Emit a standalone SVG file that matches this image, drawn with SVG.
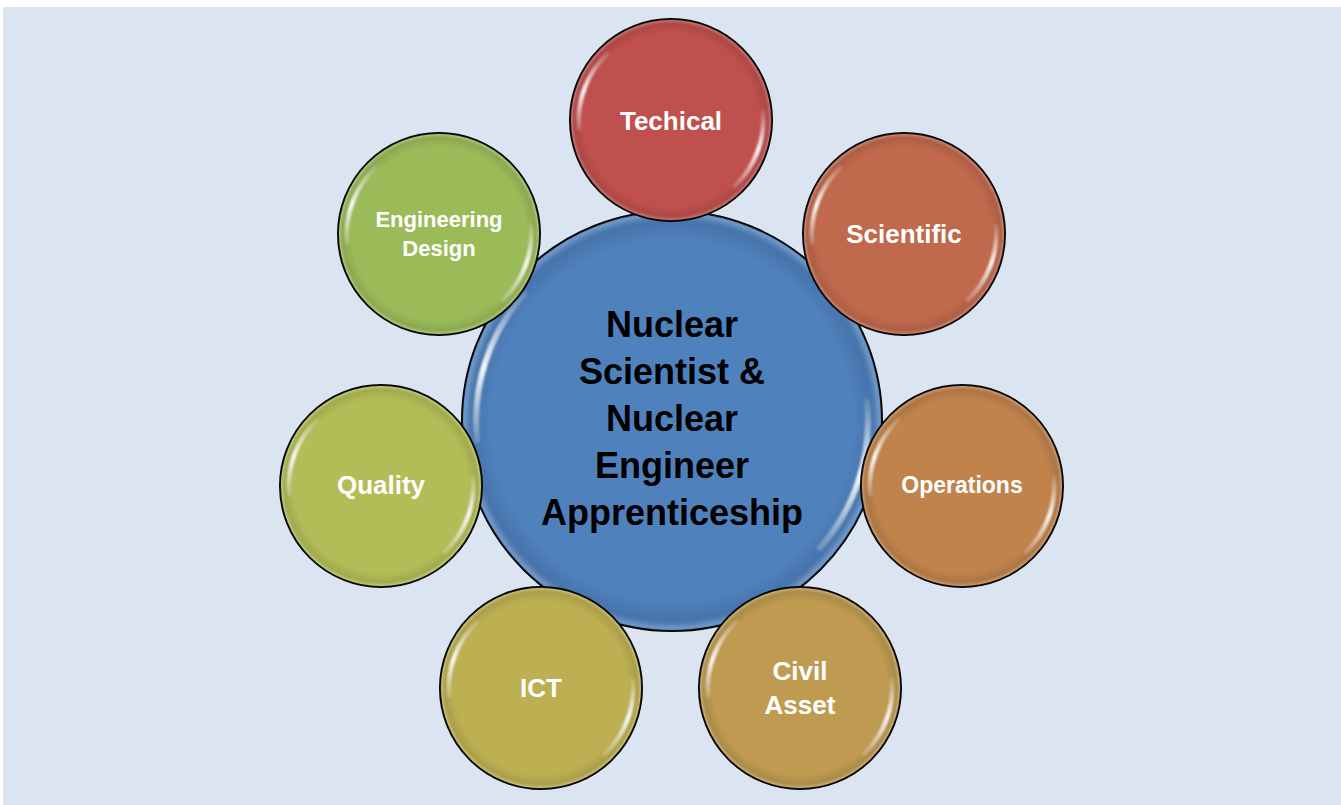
<svg xmlns="http://www.w3.org/2000/svg" width="1341" height="805" viewBox="0 0 1341 805">
<style>
.ring{stroke:#000;stroke-width:2}
.lbl{font-family:"Liberation Sans",Arial,sans-serif;font-weight:bold;fill:#fff;text-anchor:middle}
.ctr{font-family:"Liberation Sans",Arial,sans-serif;font-weight:bold;font-size:36px;fill:#000;text-anchor:middle}
.hl{fill:none;stroke:url(#hlgrad);stroke-linecap:round;filter:url(#soft)}
</style>
<defs>
<radialGradient id="shade" cx="0.5" cy="0.5" r="0.5">
<stop offset="0" stop-color="#000" stop-opacity="0"/>
<stop offset="0.86" stop-color="#000" stop-opacity="0"/>
<stop offset="0.95" stop-color="#000" stop-opacity="0.10"/>
<stop offset="0.985" stop-color="#fff" stop-opacity="0.18"/>
<stop offset="1" stop-color="#fff" stop-opacity="0.05"/>
</radialGradient>
<linearGradient id="hlgrad" x1="0" y1="1" x2="0" y2="0">
<stop offset="0" stop-color="#fff" stop-opacity="0.2"/>
<stop offset="0.5" stop-color="#fff" stop-opacity="0.95"/>
<stop offset="1" stop-color="#fff" stop-opacity="0.15"/>
</linearGradient>
<filter id="soft" x="-50%" y="-50%" width="200%" height="200%"><feGaussianBlur stdDeviation="1.1"/></filter>
<g id="gloss">
<circle r="101" fill="url(#shade)"/>
<path class="hl" stroke-width="4.5" d="M -92,8 A 92 92 0 0 1 -64,-66"/>
<path class="hl" stroke-width="4.5" d="M 92,-8 A 92 92 0 0 1 64,66"/>
</g>
</defs>
<rect width="1341" height="805" fill="#fff"/>
<rect x="3" y="7" width="1338" height="798" fill="#dbe5f1"/>

<g id="center">
<circle class="ring" cx="672" cy="421" r="210" fill="#4f81bd"/>
<circle cx="672" cy="421" r="210" fill="url(#shade)"/>
<path class="hl" stroke-width="6" d="M 481,440 A 192 192 0 0 1 528,294" transform="translate(-4,0)"/>
<path class="hl" stroke-width="6" d="M 863,402 A 192 192 0 0 1 816,548" transform="translate(4,0)"/>
<text class="ctr" x="672" y="337">Nuclear</text>
<text class="ctr" x="672" y="384">Scientist &amp;</text>
<text class="ctr" x="672" y="431">Nuclear</text>
<text class="ctr" x="672" y="478">Engineer</text>
<text class="ctr" x="672" y="525">Apprenticeship</text>
</g>

<g id="techical">
<circle class="ring" cx="671" cy="120" r="101" fill="#c0504d"/>
<use href="#gloss" x="671" y="120"/>
<text class="lbl" x="671" y="130" font-size="26">Techical</text>
</g>

<g id="scientific">
<circle class="ring" cx="904" cy="234" r="101" fill="#c0694c"/>
<use href="#gloss" x="904" y="234"/>
<text class="lbl" x="904" y="243" font-size="26">Scientific</text>
</g>

<g id="operations">
<circle class="ring" cx="962" cy="486" r="101" fill="#c0834c"/>
<use href="#gloss" x="962" y="486"/>
<text class="lbl" x="962" y="493" font-size="23">Operations</text>
</g>

<g id="civil-asset">
<circle class="ring" cx="800" cy="688" r="101" fill="#bf9b52"/>
<use href="#gloss" x="800" y="688"/>
<text class="lbl" x="800" y="680" font-size="26">Civil</text>
<text class="lbl" x="800" y="714" font-size="26">Asset</text>
</g>

<g id="ict">
<circle class="ring" cx="541" cy="688" r="101" fill="#bdb052"/>
<use href="#gloss" x="541" y="688"/>
<text class="lbl" x="541" y="697" font-size="26">ICT</text>
</g>

<g id="quality">
<circle class="ring" cx="381" cy="486" r="101" fill="#b3bd57"/>
<use href="#gloss" x="381" y="486"/>
<text class="lbl" x="381" y="494" font-size="26">Quality</text>
</g>

<g id="engineering-design">
<circle class="ring" cx="439" cy="234" r="101" fill="#9bbb59"/>
<use href="#gloss" x="439" y="234"/>
<text class="lbl" x="439" y="227" font-size="22">Engineering</text>
<text class="lbl" x="439" y="256" font-size="22">Design</text>
</g>
</svg>
